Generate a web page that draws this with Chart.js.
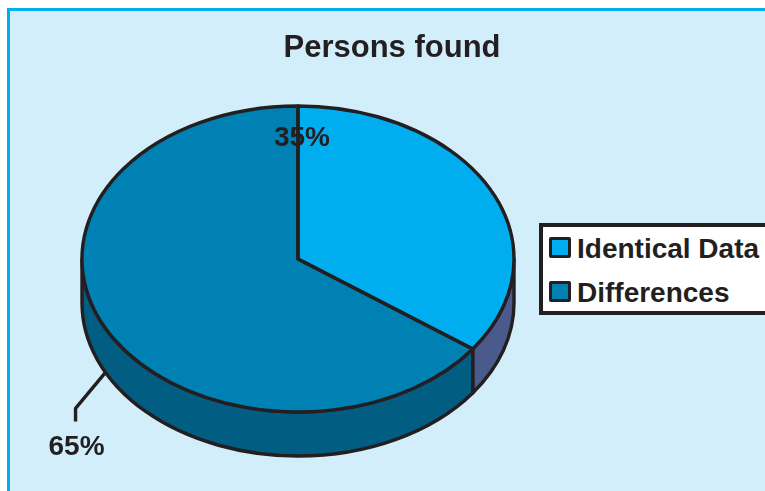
<!DOCTYPE html>
<html lang="en">
<head>
  <meta charset="UTF-8">
  <title>Persons found</title>
  <style>
    html, body { margin: 0; padding: 0; background: #fff; overflow: hidden; }
    body { width: 765px; height: 491px; position: relative; font-family: "Liberation Sans", Arial, sans-serif; color: #231f20; }
    .frame {
      position: absolute; left: 7px; top: 8px; right: 0; bottom: 0;
      background: #d3eefb;
      border-left: 3px solid #00aeef;
      border-top: 3px solid #00aeef;
    }
    #chart { position: absolute; left: 19px; top: 0; }
    .legend {
      position: absolute; left: 539px; top: 223px; width: 240px; height: 84px;
      background: #fff; border: 4px solid #231f20;
    }
    .legend div { position: absolute; left: 6px; height: 28px; line-height: 28px; font-size: 28px; font-weight: bold; white-space: nowrap; padding-left: 28px; }
    .legend i { position: absolute; left: 0; top: 2px; width: 16px; height: 15px; border: 3px solid #231f20; border-radius: 2px; }
  </style>
</head>
<body>
  <div class="frame"></div>
  <canvas id="chart" width="746" height="491"></canvas>
  <div class="legend" id="legend"></div>

  <script src="https://cdn.jsdelivr.net/npm/chart.js"></script>
  <script>
    const chartTitle = 'Persons found';
    const categories = ['Identical Data', 'Differences'];
    const values = [35, 65];
    const topColors = ['#00aeef', '#0081b3'];
    const sideColors = ['#4a5a8c', '#025d82'];

    const INK = '#231f20';
    // where the tilted pie sits on the canvas (canvas starts 19px into the page)
    const tilt = { cx: 279, cy: 259, rx: 216, ry: 153, depth: 44 };

    // html legend, the boxed one in the picture runs off the right edge
    const legendEl = document.getElementById('legend');
    categories.forEach((name, i) => {
      const row = document.createElement('div');
      row.style.top = (8 + i * 44) + 'px';
      row.textContent = name;
      const swatch = document.createElement('i');
      swatch.style.background = topColors[i];
      row.prepend(swatch);
      legendEl.appendChild(row);
    });

    const tiltedPie = {
      id: 'tiltedPie',
      beforeDatasetsDraw(chart) {
        const ctx = chart.ctx;
        const arcs = chart.getDatasetMeta(0).data;
        // side wall, only the part of each slice facing the viewer
        ctx.save();
        ctx.strokeStyle = INK;
        ctx.lineWidth = 3.4;
        ctx.lineJoin = 'round';
        arcs.forEach((arc, i) => {
          const a0 = Math.max(arc.startAngle, 0);
          const a1 = Math.min(arc.endAngle, Math.PI);
          if (a1 <= a0) return;
          ctx.beginPath();
          ctx.ellipse(tilt.cx, tilt.cy, tilt.rx, tilt.ry, 0, a0, a1);
          ctx.ellipse(tilt.cx, tilt.cy + tilt.depth, tilt.rx, tilt.ry, 0, a1, a0, true);
          ctx.closePath();
          ctx.fillStyle = sideColors[i];
          ctx.fill();
          ctx.stroke();
        });
        ctx.restore();
        // squash the library's own arcs into an ellipse
        const a = arcs[0];
        ctx.save();
        ctx.translate(tilt.cx, tilt.cy);
        ctx.scale(tilt.rx / a.outerRadius, tilt.ry / a.outerRadius);
        ctx.translate(-a.x, -a.y);
      },
      afterDatasetsDraw(chart) {
        const ctx = chart.ctx;
        ctx.restore();
        const arcs = chart.getDatasetMeta(0).data;
        ctx.save();
        ctx.strokeStyle = INK;
        ctx.lineWidth = 3.4;
        ctx.lineJoin = 'round';
        arcs.forEach(arc => {
          ctx.beginPath();
          ctx.moveTo(tilt.cx, tilt.cy);
          ctx.ellipse(tilt.cx, tilt.cy, tilt.rx, tilt.ry, 0, arc.startAngle, arc.endAngle);
          ctx.closePath();
          ctx.stroke();
        });

        // leader for the big slice starts on the lower rim at its mid angle
        const big = arcs[1];
        const mid = (big.startAngle + big.endAngle) / 2;
        const rimX = tilt.cx + Math.cos(mid) * tilt.rx;
        const rimY = tilt.cy + Math.sin(mid) * tilt.ry + tilt.depth;
        ctx.beginPath();
        ctx.moveTo(rimX, rimY);
        ctx.lineTo(rimX - 30, rimY + 36);
        ctx.lineTo(rimX - 30, rimY + 49);
        ctx.stroke();

        ctx.fillStyle = INK;
        ctx.font = 'bold 28px "Liberation Sans", Arial, sans-serif';
        ctx.textAlign = 'center';
        ctx.textBaseline = 'middle';
        ctx.fillText(values[0] + '%', tilt.cx + 4, tilt.cy - 121);
        ctx.fillText(values[1] + '%', rimX - 29, rimY + 75);
        ctx.restore();
      }
    };

    new Chart(document.getElementById('chart'), {
      type: 'pie',
      data: {
        labels: categories,
        datasets: [{
          data: values,
          backgroundColor: topColors,
          borderWidth: 0
        }]
      },
      options: {
        responsive: false,
        animation: false,
        plugins: {
          legend: { display: false },
          tooltip: { enabled: false },
          title: {
            display: true,
            text: chartTitle,
            color: INK,
            font: { size: 31, weight: 'bold', family: '"Liberation Sans", Arial, sans-serif' },
            padding: { top: 30, bottom: 0 }
          }
        }
      },
      plugins: [tiltedPie]
    });
  </script>
</body>
</html>
